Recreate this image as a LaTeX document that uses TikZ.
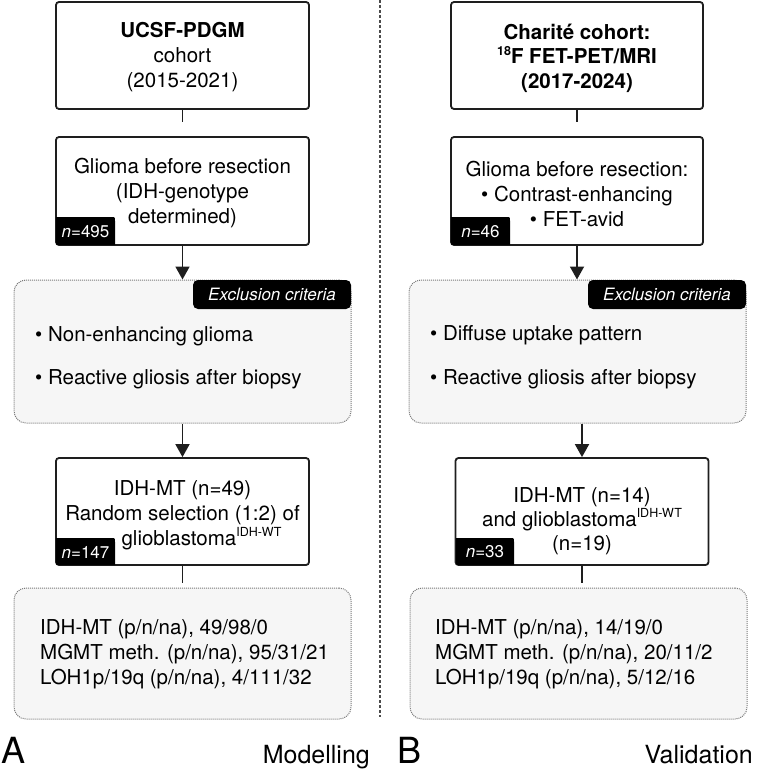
\documentclass[tikz,border=0pt]{standalone}
\usepackage{fontspec}
\setmainfont{TeX Gyre Heros}
\usetikzlibrary{arrows.meta}
\definecolor{bord}{HTML}{1E1E1E}
\definecolor{dotc}{HTML}{7A7A7A}
\definecolor{panel}{HTML}{F6F6F6}
\definecolor{divc}{HTML}{4A4A4A}
\newcommand\supx[1]{\raisebox{0.42em}{\fontsize{12.5}{12.5}\selectfont #1}}
\begin{document}
\begin{tikzpicture}[x=1pt,y=-1pt,
  solidbox/.style={draw=bord, line width=1.8pt, fill=white, rounded corners=3pt, inner sep=0pt},
  dotbox/.style={draw=dotc, line width=1pt, dash pattern=on 1pt off 1pt, fill=panel, rounded corners=12pt, inner sep=0pt},
  txt/.style={font=\fontsize{20.5}{25}\selectfont, align=center, inner sep=0pt, text=black},
  ltxt/.style={font=\fontsize{20.5}{25}\selectfont, align=left, inner sep=0pt, anchor=west, text=black},
  tagtxt/.style={font=\fontsize{17}{17}\selectfont, text=white, inner sep=0pt},
  conn/.style={draw=bord, line width=1.8pt},
  arr/.style={draw=bord, line width=1.8pt, -{Triangle[width=14pt,length=13pt]}},
  divider/.style={draw=divc, line width=1.4pt, dash pattern=on 3pt off 2pt},
  panellabel/.style={font=\fontsize{36}{36}\selectfont, inner sep=0pt, anchor=base west},
  sidelabel/.style={font=\fontsize{25}{25}\selectfont, inner sep=0pt, anchor=base east}
]
\useasboundingbox (0,0) rectangle (762,770);

% divider
\coordinate (dtop) at (380,0);
\coordinate (dbot) at (380,717);
\draw[divider] (dtop) -- (dbot);

% ---------------- left column ----------------
\node[solidbox, minimum width=253pt, minimum height=107pt] (L1) at (182.5,55.5) {};
\node[txt] (L1t) at (182.5,57) {\textbf{UCSF-PDGM}\\cohort\\(2015-2021)};

\node[solidbox, minimum width=253pt, minimum height=108pt] (L2) at (182.5,191) {};
\node[txt] (L2t) at (182.5,193.5) {Glioma before resection\\(IDH-genotype\\determined)};
\fill[black] (56,217) -- (111,217) .. controls (115,217) .. (115,221) -- (115,245) -- (59,245) .. controls (56,245) .. (56,242) -- cycle;
\node[tagtxt] (L2n) at (85.5,231.5) {\textit{n}=495};

\node[dotbox, minimum width=337pt, minimum height=143pt] (LE) at (182.5,351.5) {};
\fill[black, rounded corners=5pt] (193,280) rectangle (351,309);
\node[tagtxt, font=\fontsize{17}{17}\selectfont\itshape] (LEt) at (272,294.5) {Exclusion criteria};
\node[ltxt] (LEb1) at (35,336) {\textbullet{} Non-enhancing glioma};
\node[ltxt] (LEb2) at (35,379) {\textbullet{} Reactive gliosis after biopsy};

\node[solidbox, minimum width=253pt, minimum height=107pt] (L3) at (182.5,511.5) {};
\node[txt] (L3t) at (182.5,515) {IDH-MT (n=49)\\Random selection (1:2) of\\\hspace*{38pt}glioblastoma\supx{IDH-WT}};
\fill[black] (56,538) -- (111,538) .. controls (115,538) .. (115,542) -- (115,565) -- (59,565) .. controls (56,565) .. (56,562) -- cycle;
\node[tagtxt] (L3n) at (85.5,552) {\textit{n}=147};

\node[dotbox, minimum width=337pt, minimum height=131pt] (LD) at (182.5,653.5) {};
\node[ltxt] (LDt) at (40,654) {IDH-MT (p/n/na), 49/98/0\\MGMT meth. (p/n/na), 95/31/21\\LOH1p/19q (p/n/na), 4/111/32};

\coordinate (s1) at (182.5,122);
\draw[conn] (L1.south) -- (s1);
\draw[arr] (L2.south) -- (LE.north);
\draw[arr] (LE.south) -- (L3.north);
\coordinate (s3) at (182.5,583);
\draw[conn] (L3.south) -- (s3);

\node[panellabel] (A) at (1,763) {A};
\node[sidelabel] (Ml) at (370,763) {Modelling};

% ---------------- right column ----------------
\node[solidbox, minimum width=252pt, minimum height=107pt] (R1) at (577,55.5) {};
\node[txt, font=\fontsize{20.5}{24.5}\selectfont\bfseries] (R1t) at (577,58) {Charité cohort:\\\supx{18}F FET-PET/MRI\\(2017-2024)};

\node[solidbox, minimum width=252pt, minimum height=108pt] (R2) at (577,191) {};
\node[txt] (R2t) at (577,193.5) {Glioma before resection:\\\textbullet{} Contrast-enhancing\\\textbullet{} FET-avid};
\fill[black] (451,217) -- (506,217) .. controls (510,217) .. (510,221) -- (510,245) -- (454,245) .. controls (451,245) .. (451,242) -- cycle;
\node[tagtxt] (R2n) at (480.5,231.5) {\textit{n}=46};

\node[dotbox, minimum width=337pt, minimum height=143pt] (RE) at (577.5,351.5) {};
\fill[black, rounded corners=5pt] (588,280) rectangle (746,309);
\node[tagtxt, font=\fontsize{17}{17}\selectfont\itshape] (REt) at (667,294.5) {Exclusion criteria};
\node[ltxt] (REb1) at (430,335) {\textbullet{} Diffuse uptake pattern};
\node[ltxt] (REb2) at (430,379) {\textbullet{} Reactive gliosis after biopsy};

\node[solidbox, minimum width=253pt, minimum height=107pt] (R3) at (582,511.5) {};
\node[txt, font=\fontsize{20.5}{24}\selectfont] (R3t) at (582,521) {IDH-MT (n=14)\\and glioblastoma\supx{IDH-WT}\\(n=19)};
\fill[black] (456,538) -- (510,538) .. controls (514,538) .. (514,542) -- (514,565) -- (459,565) .. controls (456,565) .. (456,562) -- cycle;
\node[tagtxt] (R3n) at (485,552) {\textit{n}=33};

\node[dotbox, minimum width=337pt, minimum height=131pt] (RD) at (578.5,653.5) {};
\node[ltxt] (RDt) at (435,654) {IDH-MT (p/n/na), 14/19/0\\MGMT meth. (p/n/na), 20/11/2\\LOH1p/19q (p/n/na), 5/12/16};

\coordinate (r1) at (577,122);
\draw[conn] (R1.south) -- (r1);
\draw[arr] (R2.south) -- (RE.north -| R2.south);
\draw[arr] (RE.south -| R3.north) -- (R3.north);
\coordinate (r3) at (582,583);
\draw[conn] (R3.south) -- (r3);

\node[panellabel] (B) at (397,763) {B};
\node[sidelabel] (Vl) at (753,763) {Validation};
\end{tikzpicture}
\end{document}
